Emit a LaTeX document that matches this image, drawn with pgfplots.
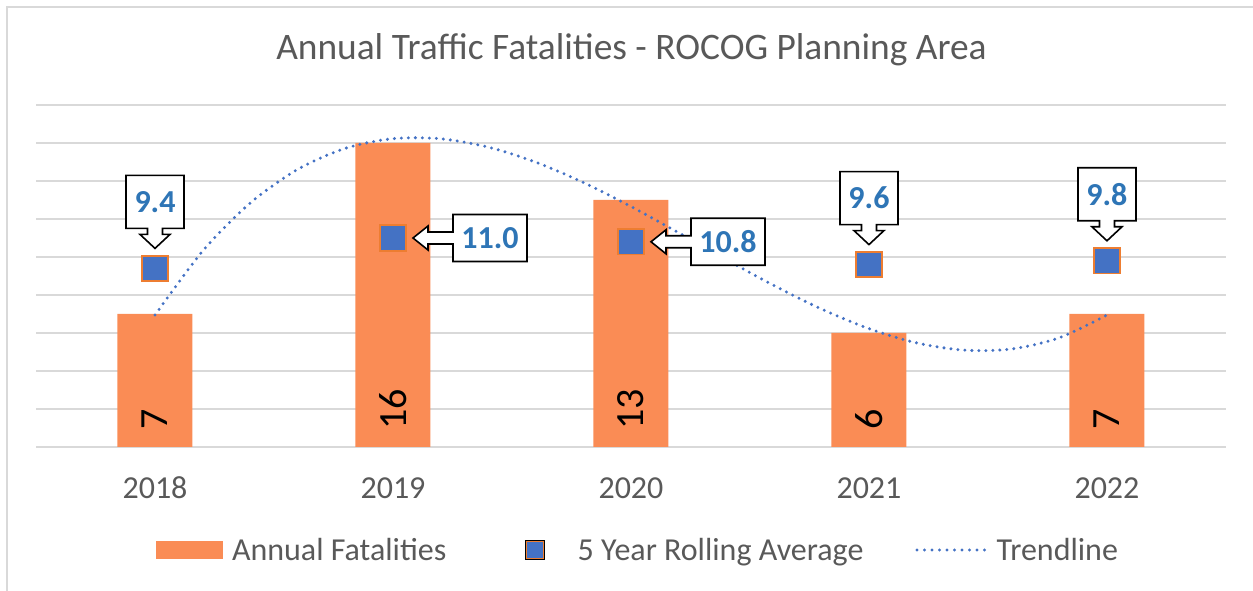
\documentclass[border=0pt]{standalone}
\usepackage{fontspec}
\setmainfont{Carlito}
\usepackage{pgfplots}
\pgfplotsset{compat=1.18}
\definecolor{barorange}{RGB}{250,140,85}
\definecolor{mblue}{RGB}{68,114,196}
\definecolor{morange}{RGB}{237,125,49}
\definecolor{cblue}{RGB}{46,117,182}
\definecolor{gridgray}{RGB}{217,217,217}
\definecolor{txtgray}{RGB}{89,89,89}

\newcommand{\downcallout}[3]{%
  \draw[black,line width=1.6pt,fill=white,line join=miter] (axis cs:#1,#2) ++(0pt,20pt) -- ++(15pt,14pt) -- ++(-7.5pt,0pt) -- ++(0pt,6pt) -- ++(21.5pt,0pt) -- ++(0pt,53pt) -- ++(-58pt,0pt) -- ++(0pt,-53pt) -- ++(21.5pt,0pt) -- ++(0pt,-6pt) -- ++(-7.5pt,0pt) -- cycle;
  \node[font=\fontsize{32}{38}\selectfont\bfseries, text=cblue, inner sep=0pt] at ([yshift=66.5pt]axis cs:#1,#2) {#3};
}
\newcommand{\leftcallout}[3]{%
  \draw[black,line width=1.6pt,fill=white,line join=miter] (axis cs:#1,#2) ++(20pt,0pt) -- ++(15pt,12pt) -- ++(0pt,-6pt) -- ++(25pt,0pt) -- ++(0pt,17.5pt) -- ++(74pt,0pt) -- ++(0pt,-47pt) -- ++(-74pt,0pt) -- ++(0pt,17.5pt) -- ++(-25pt,0pt) -- ++(0pt,-6pt) -- cycle;
  \node[font=\fontsize{32}{38}\selectfont\bfseries, text=cblue, inner sep=0pt] at ([xshift=97pt]axis cs:#1,#2) {#3};
}

\begin{document}
\begin{tikzpicture}
\useasboundingbox (0pt,0pt) rectangle (1253pt,591pt);
\draw[gridgray, line width=2pt] (7pt,-20pt) -- (7pt,584pt) -- (1270pt,584pt);
\node[anchor=base, text=txtgray, font=\fontsize{37.4}{44}\selectfont] at (631.5pt,531pt) {Annual Traffic Fatalities - ROCOG Planning Area};
\begin{axis}[
  at={(36pt,144pt)}, anchor=south west,
  scale only axis, width=1190pt, height=342pt,
  xmin=-0.5, xmax=4.5, ymin=0, ymax=18,
  xtick={0,1,2,3,4}, xticklabels={2018,2019,2020,2021,2022},
  ytick={0,2,...,18}, yticklabels={},
  ymajorgrids, grid style={gridgray, line width=1.8pt},
  axis line style={draw=none},
  major tick length=0pt,
  tick label style={font=\fontsize{32}{38}\selectfont, text=txtgray},
  xticklabel style={anchor=center, yshift=-41pt},
  clip=false,
  legend columns=3,
  legend style={at={(0.10084,-0.30117)}, anchor=west, draw=none, fill=none,
    inner sep=0pt, outer sep=0pt,
    nodes={inner sep=0pt, text=txtgray, font=\fontsize{32}{38}\selectfont},
    /tikz/column 1/.style={column sep=9pt},
    /tikz/column 2/.style={column sep=79pt},
    /tikz/column 3/.style={column sep=33pt},
    /tikz/column 4/.style={column sep=52pt},
    /tikz/column 5/.style={column sep=10pt}},
]
\addplot[ybar, bar width=75pt, fill=barorange, draw=none,
  legend image code/.code={\fill[barorange] (0pt,-9pt) rectangle (67pt,9pt);}]
  coordinates {(0,7) (1,16) (2,13) (3,6) (4,7)};
\addlegendentry{Annual Fatalities}

\addplot[only marks, mark=square*, mark size=12.7pt,
  mark options={fill=mblue, draw=morange, line width=1.8pt},
  legend image code/.code={\path (0pt,-9.5pt) rectangle (19pt,9.5pt);
    \draw[draw=none, mark=square*, mark size=8.5pt, mark options={fill=mblue, draw=morange, line width=1.8pt}] plot coordinates {(9.5pt,0pt)};}]
  coordinates {(0,9.4) (1,11.0) (2,10.8) (3,9.6) (4,9.8)};
\addlegendentry{5 Year Rolling Average}

\addplot[smooth, color=mblue, line width=3.3pt, dash pattern=on 0pt off 7pt, line cap=round, mark=none,
  legend image code/.code={\draw[mblue, line width=3.3pt, dash pattern=on 0pt off 7.5pt, line cap=round] (2pt,0pt) -- (70pt,0pt);}]
  coordinates {(0,6.943) (0.2,10.309) (0.4,12.840) (0.6,14.617) (0.8,15.720) (1.0,16.229)
  (1.2,16.223) (1.4,15.783) (1.6,14.989) (1.8,13.920) (2.0,12.657) (2.2,11.280)
  (2.4,9.869) (2.6,8.503) (2.8,7.263) (3.0,6.229) (3.2,5.480) (3.4,5.097)
  (3.6,5.160) (3.8,5.749) (4.0,6.943)};
\addlegendentry{Trendline}

\addplot[draw=none, mark=none, forget plot, nodes near coords, point meta=explicit symbolic,
  every node near coord/.append style={rotate=90, anchor=west, inner sep=0pt,
    font=\fontsize{40}{48}\selectfont, text=black}]
  table[meta=lab] {
x y lab
0 0.9 7
1 0.9 16
2 0.9 13
3 0.9 6
4 0.9 7
};

\downcallout{0}{9.4}{9.4}
\leftcallout{1}{11.0}{11.0}
\leftcallout{2}{10.8}{10.8}
\downcallout{3}{9.6}{9.6}
\downcallout{4}{9.8}{9.8}
\end{axis}
\end{tikzpicture}
\end{document}
